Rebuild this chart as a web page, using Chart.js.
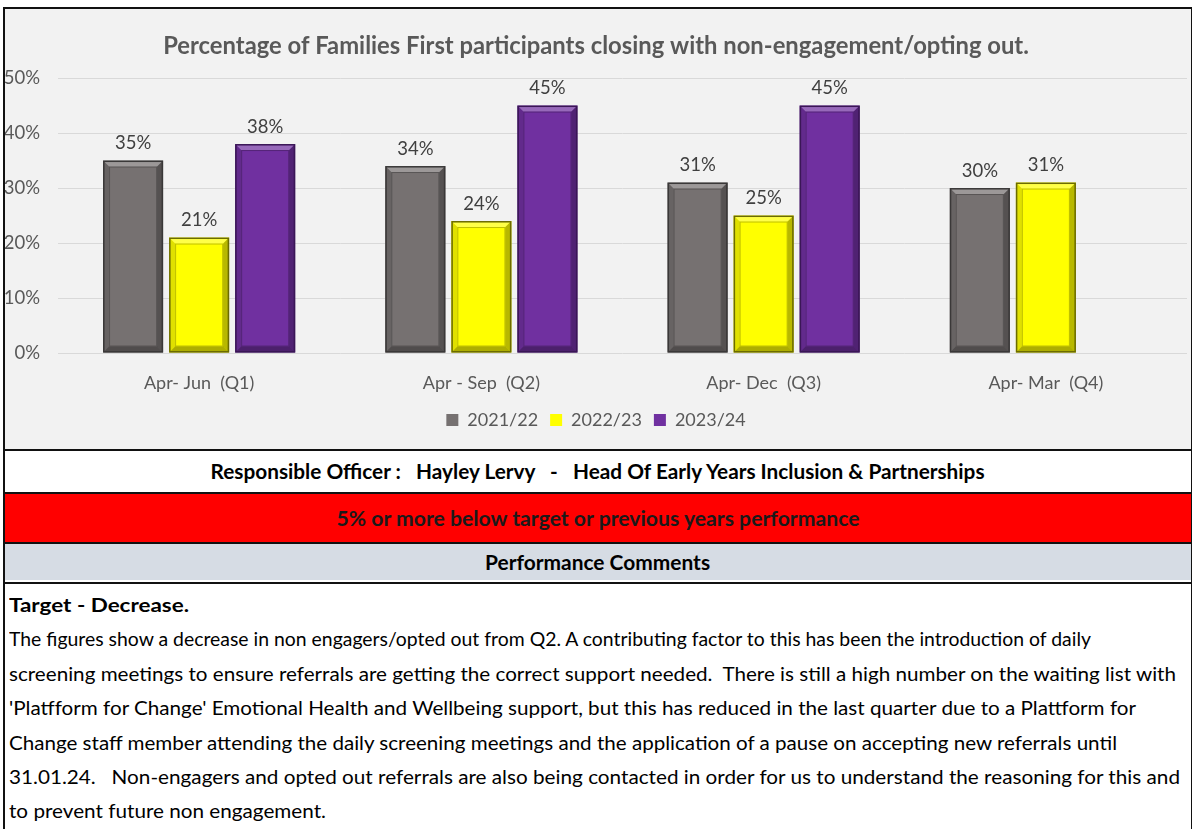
<!DOCTYPE html>
<html>
<head>
<meta charset="utf-8">
<script src="https://cdn.jsdelivr.net/npm/chart.js@4"></script>
<style>
body { margin: 0; background: #fff; font-family: Lato, "Open Sans", sans-serif; }
#frame { position: absolute; left: 3px; top: 7px; width: 1186px; height: 830px; border: 2px solid #111; border-bottom: none; }
#chartBox { position: absolute; left: 0; top: 0; width: 1186px; height: 440px; background: #f2f2f2; }
.row { position: absolute; left: 0; width: 1186px; border-top: 2px solid #111; text-align: center; font-weight: bold; color: #000; white-space: nowrap; }
.row span { display: inline-block; transform-origin: center; white-space: pre; }
#comments { position: absolute; left: 0; top: 573px; width: 1186px; border-top: 2px solid #111; }
.ln { position: absolute; left: 4px; white-space: pre; font-size: 19.5px; line-height: 34px; color: #000; transform-origin: left center; }
</style>
</head>
<body>
<div id="frame">
  <div id="chartBox"><canvas id="grafica" width="1186" height="440"></canvas></div>
  <div class="row" style="top:440px;height:41px;line-height:41px;background:#fff;font-size:20px;"><span id="r1">Responsible Officer :   Hayley Lervy   -   Head Of Early Years Inclusion &amp; Partnerships</span></div>
  <div class="row" style="top:483px;height:48px;line-height:48px;background:#ff0000;font-size:20px;color:#1a1a1a;"><span id="r2">5% or more below target or previous years performance</span></div>
  <div class="row" style="top:533px;height:36px;line-height:36px;background:#d6dce4;font-size:20px;"><span id="r3">Performance Comments</span></div>
  <div id="comments"></div>
</div>
<script>
const categorias = ["Apr- Jun  (Q1)", "Apr - Sep  (Q2)", "Apr- Dec  (Q3)", "Apr- Mar  (Q4)"];
const anios = ["2021/22", "2022/23", "2023/24"];
const valores2122 = [35, 34, 31, 30];
const valores2223 = [21, 24, 25, 31];
const valores2324 = [38, 45, 45, null];
const etiquetasY = ["0%", "10%", "20%", "30%", "40%", "50%"];
const titulo = "Percentage of Families First participants closing with non-engagement/opting out.";

const comentarios = [
  ["Target - Decrease.", 180, true],
  ["The figures show a decrease in non engagers/opted out from Q2. A contributing factor to this has been the introduction of daily", 1082, false],
  ["screening meetings to ensure referrals are getting the correct support needed.  There is still a high number on the waiting list with", 1167, false],
  ["'Platfform for Change' Emotional Health and Wellbeing support, but this has reduced in the last quarter due to a Plattform for", 1127, false],
  ["Change staff member attending the daily screening meetings and the application of a pause on accepting new referrals until", 1108, false],
  ["31.01.24.   Non-engagers and opted out referrals are also being contacted in order for us to understand the reasoning for this and", 1171, false],
  ["to prevent future non engagement.", 317, false]
];

const colores = ["#767171", "#ffff00", "#7030a0"];
const bordes = ["#3a3838", "#6b6b00", "#3a1656"];

// bevel + etiquetas de datos
const bisel = {
  id: "bisel",
  afterDatasetsDraw(chart) {
    const ctx = chart.ctx;
    chart.data.datasets.forEach((ds, di) => {
      const meta = chart.getDatasetMeta(di);
      meta.data.forEach((bar, i) => {
        const v = ds.data[i];
        if (v === null) return;
        const p = bar.getProps(["x", "y", "base", "width"], true);
        const l = p.x - p.width / 2, r = p.x + p.width / 2, t = p.y, b = p.base;
        const k = 6;
        const poly = (pts, c) => {
          ctx.beginPath();
          ctx.moveTo(pts[0][0], pts[0][1]);
          pts.slice(1).forEach(q => ctx.lineTo(q[0], q[1]));
          ctx.closePath();
          ctx.fillStyle = c;
          ctx.fill();
        };
        ctx.save();
        poly([[l, t], [r, t], [r - k, t + k], [l + k, t + k]], "rgba(255,255,255,0.28)");
        poly([[r, t], [r, b], [r - k, b - k], [r - k, t + k]], "rgba(0,0,0,0.28)");
        poly([[l, b], [r, b], [r - k, b - k], [l + k, b - k]], "rgba(0,0,0,0.32)");
        poly([[l, t], [l + k, t + k], [l + k, b - k], [l, b]], "rgba(0,0,0,0.12)");
        ctx.strokeStyle = "rgba(0,0,0,0.25)";
        ctx.lineWidth = 1;
        ctx.strokeRect(l + k + 0.5, t + k + 0.5, p.width - 2 * k - 1, b - t - 2 * k - 1);
        ctx.strokeStyle = bordes[di];
        ctx.lineWidth = 1.5;
        ctx.strokeRect(l + 0.75, t + 0.75, p.width - 1.5, b - t - 1.5);
        ctx.fillStyle = "#404040";
        ctx.font = "18.5px Lato";
        ctx.textAlign = "center";
        ctx.textBaseline = "bottom";
        ctx.fillText(v + "%", p.x, t - 8);
        ctx.restore();
      });
    });
  }
};

const ctx = document.getElementById("grafica");

new Chart(ctx, {
  type: "bar",
  data: {
    labels: categorias,
    datasets: anios.map((a, i) => ({
      label: a,
      data: [valores2122, valores2223, valores2324][i],
      backgroundColor: colores[i],
      borderColor: bordes[i],
      borderWidth: 0,
      categoryPercentage: 0.702,
      barPercentage: 0.909
    }))
  },
  options: {
    responsive: false,
    animation: false,
    layout: { padding: { top: 0, bottom: 10, left: 0, right: 4 } },
    plugins: {
      title: {
        display: true,
        text: titulo,
        color: "#595959",
        font: { family: "Lato", size: 23.8, weight: "bold" },
        padding: { top: 23, bottom: 17.5 }
      },
      legend: {
        position: "bottom",
        labels: {
          color: "#595959",
          font: { family: "Lato", size: 18 },
          boxWidth: 12,
          boxHeight: 12,
          padding: 12
        }
      },
      tooltip: { enabled: false }
    },
    scales: {
      x: {
        grid: { display: false },
        border: { display: false },
        ticks: { color: "#595959", font: { family: "Lato", size: 18 }, padding: 11, maxRotation: 0 },
        afterFit(s) { s.height = 46; }
      },
      y: {
        min: 0,
        max: 50,
        grid: { color: "#d9d9d9", drawTicks: false },
        border: { display: false },
        ticks: {
          stepSize: 10,
          color: "#595959",
          font: { family: "Lato", size: 18.5 },
          padding: 18,
          callback: (v, i) => etiquetasY[i]
        },
        afterFit(s) { s.width = 53; }
      }
    }
  },
  plugins: [bisel]
});

// texto de comentarios
const caja = document.getElementById("comments");
comentarios.forEach((c, i) => {
  const d = document.createElement("div");
  d.className = "ln";
  d.textContent = c[0];
  d.style.top = (4 + i * 34.4) + "px";
  if (c[2]) d.style.fontWeight = "bold";
  caja.appendChild(d);
  const w = d.getBoundingClientRect().width;
  d.style.transform = "scaleX(" + (c[1] / w) + ")";
});

function ajustar(id, ancho) {
  const el = document.getElementById(id);
  const w = el.getBoundingClientRect().width;
  el.style.transform = "scaleX(" + (ancho / w) + ")";
}
ajustar("r1", 774);
ajustar("r2", 523);
ajustar("r3", 225);
</script>
</body>
</html>
